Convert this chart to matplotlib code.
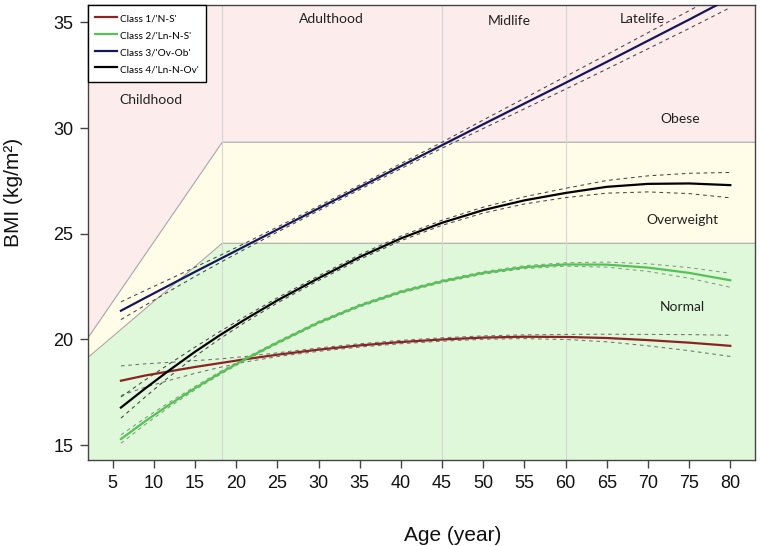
import matplotlib

matplotlib.use("Agg")
import matplotlib.pyplot as plt

ages = [6, 9, 12, 15, 18, 21, 25, 30, 35, 40, 45, 50, 55, 60, 65, 70, 75, 80]

class_labels = ["Class 1/'N-S'", "Class 2/'Ln-N-S'", "Class 3/'Ov-Ob'", "Class 4/'Ln-N-Ov'"]

bmi_c1 = [18.05, 18.30, 18.50, 18.70, 18.88, 19.06, 19.28, 19.52, 19.72, 19.88,
          20.00, 20.09, 20.13, 20.12, 20.07, 19.97, 19.85, 19.70]
bmi_c2 = [15.29, 16.15, 16.95, 17.70, 18.40, 19.05, 19.85, 20.80, 21.60, 22.25,
          22.75, 23.15, 23.42, 23.55, 23.54, 23.40, 23.15, 22.80]
bmi_c3 = [21.36, 21.98, 22.59, 23.20, 23.80, 24.40, 25.20, 26.20, 27.20, 28.20,
          29.19, 30.18, 31.16, 32.14, 33.13, 34.13, 35.13, 36.15]
bmi_c4 = [16.78, 17.70, 18.58, 19.42, 20.20, 20.93, 21.85, 22.90, 23.90, 24.78,
          25.52, 26.12, 26.58, 26.93, 27.22, 27.36, 27.38, 27.30]

# half-width of the 95% band around each curve
ci_c1 = [0.70, 0.55, 0.42, 0.30, 0.20, 0.13, 0.09, 0.08, 0.08, 0.08,
         0.08, 0.08, 0.09, 0.12, 0.18, 0.27, 0.38, 0.50]
ci_c2 = [0.20, 0.15, 0.11, 0.08, 0.07, 0.06, 0.06, 0.06, 0.06, 0.06,
         0.06, 0.06, 0.07, 0.08, 0.12, 0.18, 0.25, 0.33]
ci_c3 = [0.42, 0.35, 0.28, 0.22, 0.17, 0.14, 0.12, 0.11, 0.11, 0.12,
         0.14, 0.20, 0.25, 0.30, 0.34, 0.38, 0.42, 0.45]
ci_c4 = [0.50, 0.40, 0.30, 0.22, 0.17, 0.14, 0.12, 0.11, 0.11, 0.11,
         0.12, 0.14, 0.17, 0.22, 0.30, 0.38, 0.48, 0.60]

# weight-status zone boundaries (sloped in childhood, flat in adulthood)
zone_age = [2, 18.3, 83]
overweight_floor = [19.15, 24.55, 24.55]
obese_floor = [20.08, 29.33, 29.33]

stage_breaks = [18.3, 45, 60]
x_ticks = list(range(5, 81, 5))
y_ticks = [15, 20, 25, 30, 35]


def main() -> None:
    fig = plt.figure(figsize=(7.6, 5.46), dpi=100)
    ax = fig.add_axes([88 / 760, 1 - 460 / 546, 667 / 760, 455 / 546])
    ax.set_xlim(2, 83)
    ax.set_ylim(14.3, 35.82)

    # background zones
    ax.set_facecolor("#fcecec")
    ax.fill_between(zone_age, overweight_floor, obese_floor, color="#fffde8", lw=0, zorder=0)
    ax.fill_between(zone_age, 0, overweight_floor, color="#e0f8da", lw=0, zorder=0)
    ax.plot(zone_age, overweight_floor, color="#a8a8a8", lw=0.8, zorder=1)
    ax.plot(zone_age, obese_floor, color="#a8a8a8", lw=0.8, zorder=1)
    for b in stage_breaks:
        ax.axvline(b, color="#d6d6d6", lw=0.8, zorder=1)

    series = [
        (bmi_c1, ci_c1, "#8b2323", "#707070"),
        (bmi_c2, ci_c2, "#55c255", "#829c82"),
        (bmi_c3, ci_c3, "#16165c", "#444444"),
        (bmi_c4, ci_c4, "#000000", "#444444"),
    ]
    for (vals, ci, col, ci_col), lab in zip(series, class_labels):
        ax.plot(ages, vals, color=col, lw=1.6, label=lab, zorder=4)
        lo = [v - c for v, c in zip(vals, ci)]
        hi = [v + c for v, c in zip(vals, ci)]
        for band in (lo, hi):
            ax.plot(ages, band, color=ci_col, lw=0.75, dashes=(3.5, 3.5), zorder=3)

    txt = dict(family="Lato", fontsize=10, color="#222222", ha="center", va="center")
    ax.text(9.65, 31.35, "Childhood", **txt)
    ax.text(31.6, 35.16, "Adulthood", **txt)
    ax.text(53.1, 35.05, "Midlife", **txt)
    ax.text(69.3, 35.17, "Latelife", **txt)
    ax.text(73.9, 30.45, "Obese", **txt)
    ax.text(74.2, 25.64, "Overweight", **txt)
    ax.text(74.2, 21.53, "Normal", **txt)

    ax.set_xticks(x_ticks)
    ax.set_yticks(y_ticks)
    ax.tick_params(direction="out", length=5.5, width=1, color="#444444", pad=5,
                   labelsize=13, labelcolor="#111111")
    for lab in ax.get_xticklabels() + ax.get_yticklabels():
        lab.set_family("Liberation Sans")
    for sp in ax.spines.values():
        sp.set_color("#444444")
        sp.set_linewidth(1)

    fig.text(452.8 / 760, 1 - 541 / 546, "Age (year)", family="Liberation Sans",
             fontsize=15, ha="center", va="baseline", color="#111111")
    fig.text(14 / 760, 1 - 192 / 546, "BMI (kg/m²)", family="Liberation Sans",
             fontsize=15, ha="center", va="center", rotation=90, color="#111111")

    leg = ax.legend(loc="upper left", bbox_to_anchor=(0, 1), borderaxespad=0,
                    prop={"family": "Lato", "size": 7.2}, handlelength=2.2,
                    handleheight=1.6, handletextpad=0.35, labelspacing=0.4,
                    borderpad=0.7, fancybox=False, framealpha=1,
                    facecolor="white", edgecolor="black")
    leg.get_frame().set_linewidth(1)
    leg.set_zorder(6)

    fig.savefig("out.png", dpi=100)


if __name__ == "__main__":
    main()
